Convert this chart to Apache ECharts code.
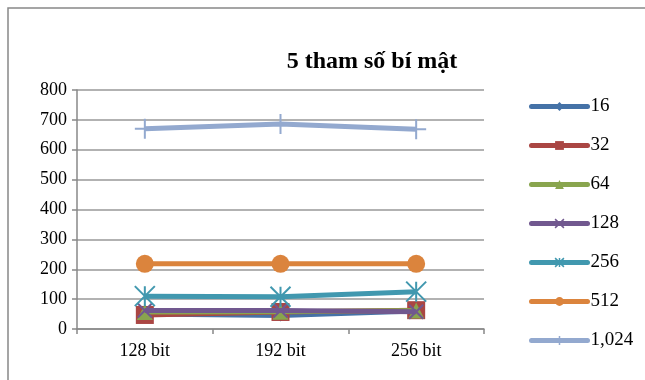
<!DOCTYPE html>
<html><head><meta charset="utf-8">
<script src="https://cdn.jsdelivr.net/npm/echarts@6/dist/echarts.min.js"></script>
<style>html,body{margin:0;padding:0;background:#fff}#c{width:645px;height:380px}</style>
</head><body><div id="c"></div>
<script>
const categories = ['128 bit', '192 bit', '256 bit'];
const seriesNames = ['16', '32', '64', '128', '256', '512', '1,024'];
const s16 = [50, 45, 60];
const s32 = [47, 57, 63];
const s64 = [57, 58, 62];
const s128 = [62, 62, 58];
const s256 = [110, 108, 125];
const s512 = [218, 218, 218];
const s1024 = [670, 686, 669];
const yTicks = [0, 100, 200, 300, 400, 500, 600, 700, 800];
const titleText = '5 tham số bí mật';

const values = [s16, s32, s64, s128, s256, s512, s1024];
const colors = ['#4572A7', '#AA4643', '#89A54E', '#71588F', '#4198AF', '#DB843D', '#93A9CF'];
const symbols = ['diamond', 'rect', 'triangle',
  'path://M0,0L10,10M10,0L0,10',
  'path://M0,0L10,10M10,0L0,10M5,0L5,10',
  'circle',
  'path://M5,0L5,10M0,5L10,5'];
const sizes = [12, 18, 16, 14, 20, 18, 20];
const strokeOnly = [false, false, false, true, true, false, true];

const font = 'Liberation Serif';
const chart = echarts.init(document.getElementById('c'), null, {renderer: 'canvas'});
chart.setOption({
  animation: false,
  textStyle: {fontFamily: font},
  graphic: [{type: 'rect', shape: {x: 8, y: 8, width: 700, height: 500},
    style: {fill: 'none', stroke: '#888', lineWidth: 1.5}, z: -1}],
  title: {text: titleText, left: 367, top: 45, textAlign: 'center',
    textStyle: {fontFamily: font, fontWeight: 'bold', fontSize: 24, color: '#000'}},
  grid: {left: 77, right: 161, top: 90, bottom: 51},
  legend: {orient: 'vertical', left: 524, top: 92, itemGap: 20, itemWidth: 56, itemHeight: 11,
    lineStyle: {width: 5, cap: 'round'},
    itemStyle: {borderWidth: 0},
    textStyle: {fontFamily: font, fontSize: 19, color: '#000', padding: [0, 0, 0, -2], lineHeight: 19},
    data: seriesNames.map((n, i) => ({name: n, itemStyle: strokeOnly[i] ? {borderWidth: 1.5} : {}}))},
  xAxis: {type: 'category', data: categories, boundaryGap: true,
    axisLine: {lineStyle: {color: '#888', width: 1.5}},
    axisTick: {show: true, alignWithLabel: false, length: 5, lineStyle: {color: '#888', width: 1.5}},
    axisLabel: {fontFamily: font, fontSize: 18, color: '#000', margin: 13}},
  yAxis: {type: 'value', min: yTicks[0], max: yTicks[yTicks.length - 1], interval: 100,
    axisLine: {show: true, lineStyle: {color: '#888', width: 1.5}},
    axisTick: {show: true, length: 5, lineStyle: {color: '#888', width: 1.5}},
    splitLine: {lineStyle: {color: '#999', width: 1.5}},
    axisLabel: {fontFamily: font, fontSize: 18, color: '#000', margin: 10}},
  series: values.map((v, i) => ({
    name: seriesNames[i], type: 'line', data: v,
    symbol: symbols[i], symbolSize: sizes[i], showSymbol: true,
    lineStyle: {color: colors[i], width: 5},
    itemStyle: strokeOnly[i]
      ? {color: colors[i], borderColor: colors[i], borderWidth: 2}
      : {color: colors[i], borderColor: colors[i], borderWidth: 0},
    z: 2 + i
  }))
});
</script></body></html>
